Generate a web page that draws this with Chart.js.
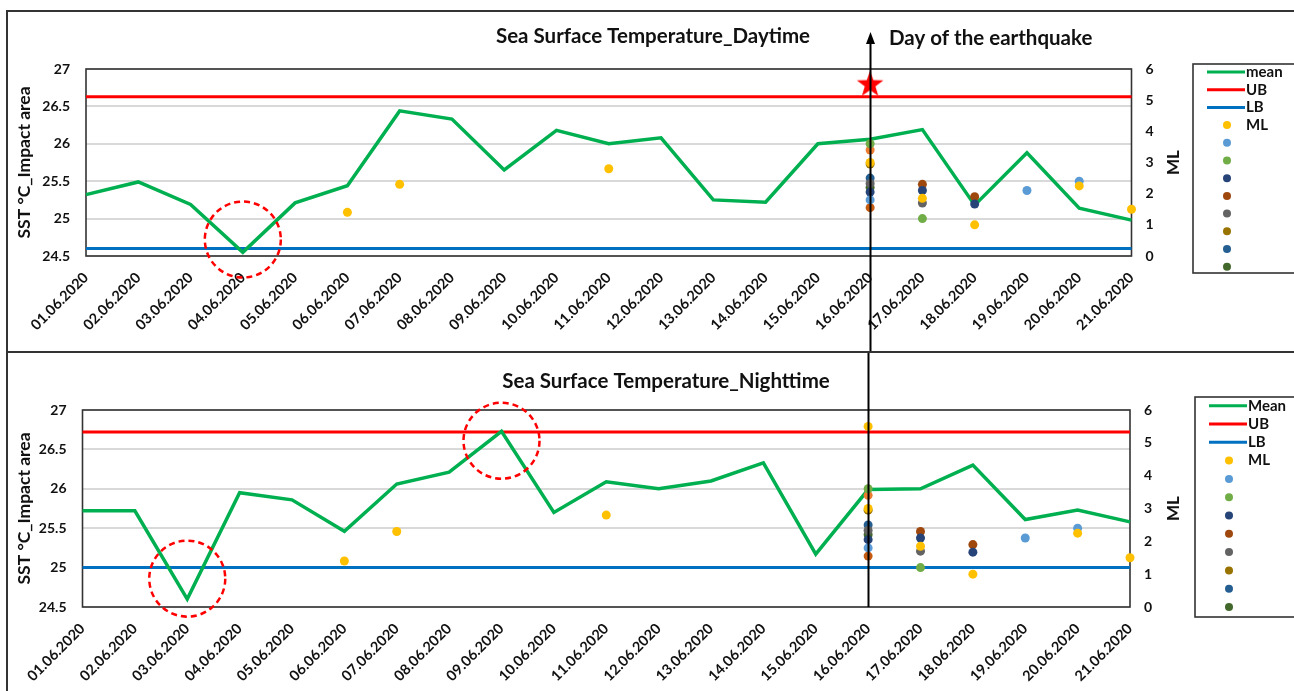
<!DOCTYPE html>
<html>
<head>
<meta charset="utf-8">
<title>SST</title>
<script src="https://cdn.jsdelivr.net/npm/chart.js@4.4.1/dist/chart.umd.min.js"></script>
<style>
  html, body { margin: 0; background: #fff; }
  body { width: 1294px; height: 691px; position: relative; overflow: hidden; }
  .panel { position: absolute; left: 0; width: 1294px; }
  #p-day { top: 0; height: 352px; }
  #p-night { top: 352px; height: 339px; }
  .frame { position: absolute; left: 6px; width: 1300px; border-left: 2px solid #333; border-top: 2px solid #333; pointer-events: none; }
</style>
</head>
<body>
<div class="panel" id="p-day"><canvas id="chart-day"></canvas></div>
<div class="panel" id="p-night"><canvas id="chart-night"></canvas></div>
<div class="frame" style="top:10px;height:340px"></div>
<div class="frame" style="top:351px;height:350px"></div>

<script>
// ---- data ----
const days = ['01.06.2020', '02.06.2020', '03.06.2020', '04.06.2020', '05.06.2020', '06.06.2020', '07.06.2020',
  '08.06.2020', '09.06.2020', '10.06.2020', '11.06.2020', '12.06.2020', '13.06.2020', '14.06.2020',
  '15.06.2020', '16.06.2020', '17.06.2020', '18.06.2020', '19.06.2020', '20.06.2020', '21.06.2020'];

const meanDay = [25.32, 25.49, 25.19, 24.55, 25.21, 25.44, 26.44, 26.33, 25.65, 26.18, 26.0,
  26.08, 25.25, 25.22, 26.0, 26.06, 26.19, 25.18, 25.88, 25.14, 24.98];
const meanNight = [25.72, 25.72, 24.6, 25.95, 25.86, 25.46, 26.06, 26.21, 26.73, 25.7, 26.09,
  26.0, 26.1, 26.33, 25.17, 25.99, 26.0, 26.3, 25.61, 25.73, 25.58];

const ubDay = 26.63, lbDay = 24.6;
const ubNight = 26.72, lbNight = 25.0;

const tempTicks = [24.5, 25, 25.5, 26, 26.5, 27];
const mlTicks = [0, 1, 2, 3, 4, 5, 6];

// earthquakes per day: [day index, ML]
const mainShock = [[15, 5.5]];
const mlYellow = [[5, 1.4], [6, 2.3], [10, 2.8], [15, 3.0], [16, 1.85], [17, 1.0], [19, 2.25], [20, 1.5]];
const mlLightBlue = [[15, 1.8], [18, 2.1], [19, 2.4]];
const mlGreen = [[15, 3.6], [16, 1.2]];
const mlNavy = [[15, 2.05], [16, 2.1], [17, 1.67]];
const mlBrown = [[16, 2.3], [17, 1.9]];
const mlGrey = [[15, 2.33], [16, 1.7]];
const mlGold = [[15, 2.95]];
const mlBlue = [[15, 2.5]];
const mlDarkGreen = [[15, 2.2]];
const mlOrange = [[15, 3.4]];
const mlRust = [[15, 1.55]];

// circled anomalies: [day index, centre value]
const circlesDay = [[3, 24.72]];
const circlesNight = [[2, 24.86], [8, 26.61]];

const FONT = 'Lato, "Open Sans", sans-serif';
const INK = '#111';

const mlSets = [
  { pts: mlYellow, color: '#FFC000', label: 'ML', legend: true },
  { pts: mlLightBlue, color: '#5B9BD5', label: '', legend: true },
  { pts: mlGreen, color: '#70AD47', label: '', legend: true },
  { pts: mlNavy, color: '#264478', label: '', legend: true },
  { pts: mlBrown, color: '#9E480E', label: '', legend: true },
  { pts: mlGrey, color: '#636363', label: '', legend: true },
  { pts: mlGold, color: '#997300', label: '', legend: true },
  { pts: mlBlue, color: '#255E91', label: '', legend: true },
  { pts: mlDarkGreen, color: '#43682B', label: '', legend: true },
  { pts: mlOrange, color: '#ED7D31', label: '', legend: false },
  { pts: mlRust, color: '#C55A11', label: '', legend: false }
];

function toPoints(list) {
  return list.map(([d, v]) => ({ x: days[d], y: v }));
}

// filled five-point star used as a point image
function starImage(r, color) {
  const c = document.createElement('canvas');
  c.width = c.height = r * 2;
  const g = c.getContext('2d');
  g.fillStyle = color;
  g.beginPath();
  for (let k = 0; k < 10; k++) {
    const rad = k % 2 ? r * 0.4 : r;
    const a = -Math.PI / 2 + k * Math.PI / 5;
    g.lineTo(r + rad * Math.cos(a), r + rad * Math.sin(a));
  }
  g.closePath();
  g.fill();
  return c;
}

// ---- plugins ----
const plotFrame = {
  id: 'plotFrame',
  beforeDatasetsDraw(chart) {
    const { ctx, chartArea: a } = chart;
    ctx.save();
    ctx.strokeStyle = '#333';
    ctx.lineWidth = 1.6;
    ctx.strokeRect(a.left, a.top, a.right - a.left, a.bottom - a.top);
    ctx.restore();
  }
};

const anomalyCircles = {
  id: 'anomalyCircles',
  afterDatasetsDraw(chart, args, o) {
    const { ctx, scales } = chart;
    ctx.save();
    ctx.strokeStyle = '#FF0000';
    ctx.lineWidth = 2.5;
    ctx.setLineDash([6, 4]);
    (o.items || []).forEach(([d, v]) => {
      ctx.beginPath();
      ctx.arc(scales.x.getPixelForValue(d), scales.y.getPixelForValue(v), 38, 0, Math.PI * 2);
      ctx.stroke();
    });
    ctx.restore();
  }
};

const quakeMarker = {
  id: 'quakeMarker',
  afterDatasetsDraw(chart, args, o) {
    const { ctx, scales, chartArea } = chart;
    const x = Math.round(scales.x.getPixelForValue(o.day)) + 0.5;
    const y0 = o.arrow ? o.tipY : 0;
    const y1 = o.arrow ? chart.height : chartArea.bottom;
    ctx.save();
    ctx.strokeStyle = '#000';
    ctx.fillStyle = '#000';
    ctx.lineWidth = 2;
    ctx.beginPath();
    ctx.moveTo(x, o.arrow ? y0 + 8 : y0);
    ctx.lineTo(x, y1);
    ctx.stroke();
    if (o.arrow) {
      ctx.beginPath();
      ctx.moveTo(x, y0);
      ctx.lineTo(x - 4.5, y0 + 12);
      ctx.lineTo(x + 4.5, y0 + 12);
      ctx.closePath();
      ctx.fill();
    }
    ctx.restore();
  }
};

// titles and the ML axis name (read bottom to top)
const textLabels = {
  id: 'textLabels',
  afterDraw(chart, args, o) {
    const { ctx, chartArea } = chart;
    ctx.save();
    ctx.fillStyle = INK;
    ctx.textBaseline = 'middle';
    (o.items || []).forEach(t => {
      ctx.font = 'bold ' + t.size + 'px ' + FONT;
      ctx.textAlign = t.align;
      ctx.fillText(t.text, t.x, t.y);
    });
    ctx.translate(o.mlX, (chartArea.top + chartArea.bottom) / 2);
    ctx.rotate(-Math.PI / 2);
    ctx.font = 'bold 17px ' + FONT;
    ctx.textAlign = 'center';
    ctx.fillText('ML', 0, 0);
    ctx.restore();
  }
};

const boxLegend = {
  id: 'boxLegend',
  afterDraw(chart, args, o) {
    const ctx = chart.ctx;
    ctx.save();
    ctx.strokeStyle = '#333';
    ctx.lineWidth = 1.6;
    ctx.strokeRect(o.x, o.y, 200, o.h);
    ctx.font = 'bold 15px ' + FONT;
    ctx.textBaseline = 'middle';
    ctx.textAlign = 'left';
    let y = o.y + o.first;
    chart.data.datasets.forEach(ds => {
      if (!ds.legendShape) return;
      if (ds.legendShape === 'line') {
        ctx.strokeStyle = ds.borderColor;
        ctx.lineWidth = 3;
        ctx.beginPath();
        ctx.moveTo(o.x + 14, y);
        ctx.lineTo(o.x + 52, y);
        ctx.stroke();
      } else {
        ctx.fillStyle = ds.backgroundColor;
        ctx.beginPath();
        ctx.arc(o.x + 34, y, 4, 0, Math.PI * 2);
        ctx.fill();
      }
      if (ds.label) {
        ctx.fillStyle = INK;
        ctx.fillText(ds.label, o.x + 53, y);
      }
      y += o.step;
    });
    ctx.restore();
  }
};

// ---- chart builder ----
function buildPanel(canvasId, p) {
  const datasets = [
    { label: p.meanLabel, data: p.mean, borderColor: '#00B050', borderWidth: 3.5, pointRadius: 0, legendShape: 'line', order: 3 },
    { label: 'UB', data: days.map(() => p.ub), borderColor: '#FF0000', borderWidth: 3, pointRadius: 0, legendShape: 'line', order: 4 },
    { label: 'LB', data: days.map(() => p.lb), borderColor: '#0070C0', borderWidth: 3, pointRadius: 0, legendShape: 'line', order: 5 }
  ];
  mlSets.forEach(s => {
    datasets.push({
      label: s.label, data: toPoints(s.pts), yAxisID: 'y1', showLine: false,
      pointRadius: 4.5, pointBorderWidth: 0, backgroundColor: s.color, borderColor: s.color,
      legendShape: s.legend ? 'dot' : null, order: 1
    });
  });
  datasets.push(p.star
    ? { label: '', data: toPoints(mainShock), yAxisID: 'y1', showLine: false, pointStyle: starImage(14, '#FF0000'), pointRadius: 14, order: 0 }
    : { label: '', data: toPoints(mainShock), yAxisID: 'y1', showLine: false, pointRadius: 4.5, pointBorderWidth: 0, backgroundColor: '#FFC000', borderColor: '#FFC000', order: 0 });

  const tickFont = { family: FONT, size: 14, weight: 'bold' };
  const titleFont = { family: FONT, size: 17.5, weight: 'bold' };

  return new Chart(document.getElementById(canvasId), {
    type: 'line',
    data: { labels: days, datasets: datasets },
    options: {
      responsive: true, maintainAspectRatio: false, animation: false,
      datasets: { line: { clip: false, tension: 0 } },
      layout: { padding: { top: p.top, left: 0, right: p.right, bottom: 0 } },
      plugins: {
        legend: { display: false }, tooltip: { enabled: false },
        anomalyCircles: { items: p.circles },
        quakeMarker: { day: 15, arrow: p.arrow, tipY: 32 },
        textLabels: { items: p.texts, mlX: 1174 },
        boxLegend: p.legendBox
      },
      scales: {
        x: {
          grid: { display: false, drawTicks: false }, border: { display: false },
          ticks: { autoSkip: false, maxRotation: 45, minRotation: 45, padding: 13, color: INK, font: { family: FONT, size: 14.5, weight: 'bold' } },
          afterFit: s => { s.height = p.xHeight; }
        },
        y: {
          position: 'left', min: tempTicks[0], max: tempTicks[tempTicks.length - 1],
          afterBuildTicks: s => { s.ticks = tempTicks.map(v => ({ value: v })); },
          ticks: { padding: 16, color: INK, font: tickFont, callback: v => String(v) },
          grid: { color: '#D9D9D9', lineWidth: 2, drawTicks: false }, border: { display: false },
          title: { display: true, text: 'SST °C_Impact area', color: INK, font: titleFont, padding: { top: 14, bottom: 0 } },
          afterFit: s => { s.width = p.leftWidth; }
        },
        y1: {
          position: 'right', min: mlTicks[0], max: mlTicks[mlTicks.length - 1],
          afterBuildTicks: s => { s.ticks = mlTicks.map(v => ({ value: v })); },
          ticks: { padding: 14, color: INK, font: tickFont, callback: v => String(v) },
          grid: { display: false, drawTicks: false }, border: { display: false },
          afterFit: s => { s.width = 55; }
        }
      }
    },
    plugins: [plotFrame, anomalyCircles, quakeMarker, textLabels, boxLegend]
  });
}

buildPanel('chart-day', {
  mean: meanDay, ub: ubDay, lb: lbDay, meanLabel: 'mean', star: true, arrow: true,
  top: 69, right: 107.5, leftWidth: 86, xHeight: 96, circles: circlesDay,
  texts: [
    { text: 'Sea Surface Temperature_Daytime', x: 653, y: 36, size: 20.5, align: 'center' },
    { text: 'Day of the earthquake', x: 889, y: 38, size: 20.5, align: 'left' }
  ],
  legendBox: { x: 1193, y: 64, h: 209, first: 8, step: 17.7 }
});

buildPanel('chart-night', {
  mean: meanNight, ub: ubNight, lb: lbNight, meanLabel: 'Mean', star: false, arrow: false,
  top: 58, right: 109, leftWidth: 82.5, xHeight: 84, circles: circlesNight,
  texts: [
    { text: 'Sea Surface Temperature_Nighttime', x: 666, y: 29, size: 20.5, align: 'center' }
  ],
  legendBox: { x: 1195, y: 45, h: 220, first: 8.7, step: 18.3 }
});
</script>
</body>
</html>
